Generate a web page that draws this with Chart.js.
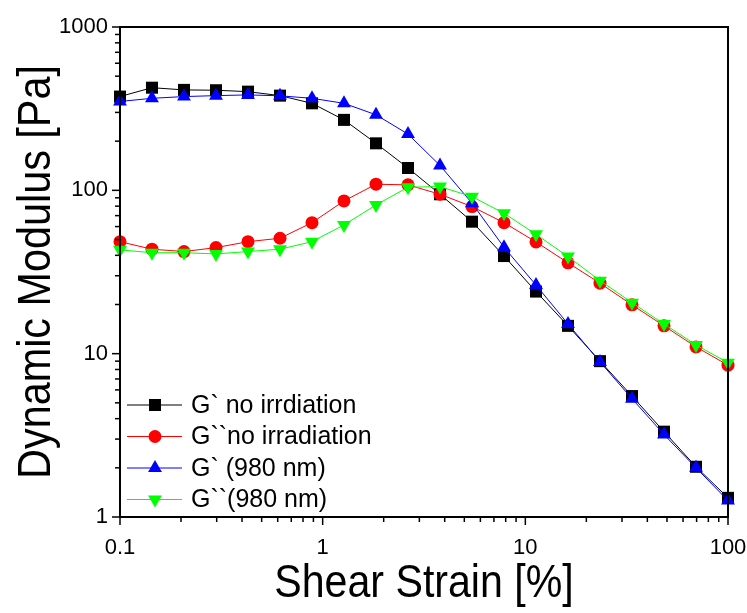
<!DOCTYPE html>
<html><head><meta charset="utf-8">
<script src="https://cdn.jsdelivr.net/npm/chart.js@4.4.0/dist/chart.umd.min.js"></script>
<style>html,body{margin:0;padding:0;background:#fff;}#wrap{width:747px;height:613px;}</style>
</head><body><div id="wrap"><canvas id="c" width="747" height="613"></canvas></div>
<script>
// ---- data ----
const strain = [0.1, 0.1438, 0.2069, 0.2976, 0.4281, 0.6158, 0.8859, 1.274, 1.833, 2.637, 3.793, 5.456, 7.848, 11.29, 16.24, 23.36, 33.6, 48.33, 69.52, 100];
const gPrimeNoIrr   = [375, 425, 412, 410, 402, 380, 341, 270, 194, 137, 94.6, 64.3, 39.6, 24.0, 14.8, 9.0, 5.5, 3.33, 2.03, 1.31];
const gDPrimeNoIrr  = [48.5, 43.6, 42.2, 44.6, 48.5, 50.9, 63.4, 86.1, 109, 108, 94.6, 79.5, 63.4, 48.3, 36.0, 27.0, 19.9, 14.8, 11.0, 8.5];
const gPrime980     = [350, 366, 375, 380, 384, 379, 366, 341, 290, 221, 142, 83.4, 44.8, 26.3, 15.2, 8.9, 5.3, 3.2, 2.0, 1.26];
const gDPrime980    = [43.2, 41.5, 41.5, 40.8, 42.2, 43.6, 48.5, 61.4, 81.4, 104.5, 105.4, 91.5, 72.4, 53.8, 39.3, 28.0, 20.5, 15.2, 11.3, 8.8];
const seriesNames = ["G` no irrdiation", "G``no irradiation", "G` (980 nm)", "G``(980 nm)"];
const xTickLabels = ["0.1", "1", "10", "100"];
const yTickLabels = ["1", "10", "100", "1000"];
const xTitle = "Shear Strain [%]";
const yTitle = "Dynamic Modulus [Pa]";

const FONT = "'Liberation Sans', Arial, sans-serif";

function pts(ys){ return strain.map((x,i)=>({x:x, y:ys[i]})); }
function logTicks(min, max){
  const out=[];
  for(let e=Math.round(Math.log10(min)); e<Math.round(Math.log10(max)); e++){
    for(let m=1;m<10;m++) out.push(m*Math.pow(10,e));
  }
  out.push(max);
  return out;
}
function isDecade(v){ const l=Math.log10(v); return Math.abs(l-Math.round(l))<1e-6; }

const styles = [
  {color:'#000000', pointStyle:'rect', radius:8.5, rotation:0},
  {color:'#ff0000', pointStyle:'circle', radius:6.5, rotation:0},
  {color:'#0000ff', pointStyle:'triangle', radius:8, rotation:0},
  {color:'#00ff00', pointStyle:'triangle', radius:8, rotation:180}
];
const seriesData = [gPrimeNoIrr, gDPrimeNoIrr, gPrime980, gDPrime980];

const datasets = seriesData.map((d,i)=>({
  label: seriesNames[i],
  data: pts(d),
  borderColor: styles[i].color,
  backgroundColor: styles[i].color,
  pointBackgroundColor: styles[i].color,
  pointBorderColor: styles[i].color,
  pointStyle: styles[i].pointStyle,
  pointRadius: styles[i].radius,
  pointRotation: styles[i].rotation,
  pointBorderWidth: 0,
  borderWidth: 1,
  showLine: true,
  clip: false,
  order: 4 - i
}));

const framePlugin = {
  id: 'frameTicks',
  afterDatasetsDraw(chart){
    const ctx = chart.ctx, a = chart.chartArea;
    const xs = chart.scales.x, ys = chart.scales.y;
    ctx.save();
    ctx.strokeStyle = '#000';
    ctx.lineWidth = 1.5;
    logTicks(0.1, 100).forEach(v=>{
      const px = xs.getPixelForValue(v);
      const len = isDecade(v) ? 8 : 5;
      ctx.beginPath(); ctx.moveTo(px, a.bottom); ctx.lineTo(px, a.bottom + len); ctx.stroke();
    });
    logTicks(1, 1000).forEach(v=>{
      const py = ys.getPixelForValue(v);
      const len = isDecade(v) ? 8 : 5;
      ctx.beginPath(); ctx.moveTo(a.left, py); ctx.lineTo(a.left - len, py); ctx.stroke();
    });
    ctx.lineWidth = 2;
    ctx.strokeRect(a.left, a.top, a.right - a.left, a.bottom - a.top);
    // legend
    const lx0 = 127, lx1 = 182, mx = 155, tx = 191, y0 = 405, dy = 31.5;
    chart.data.datasets.forEach((ds,i)=>{
      const y = y0 + i*dy;
      ctx.strokeStyle = ds.borderColor; ctx.lineWidth = 1;
      ctx.beginPath(); ctx.moveTo(lx0, y); ctx.lineTo(lx1, y); ctx.stroke();
      ctx.fillStyle = ds.pointBackgroundColor; ctx.strokeStyle = ds.pointBorderColor;
      Chart.helpers.drawPoint(ctx, {pointStyle: ds.pointStyle, radius: ds.pointRadius, rotation: ds.pointRotation, borderWidth: 0}, mx, y);
      ctx.fillStyle = '#000';
      ctx.font = '25px ' + FONT;
      ctx.textAlign = 'left'; ctx.textBaseline = 'middle';
      ctx.fillText(ds.label, tx, y + 1);
    });
    // axis titles (slightly condensed like the reference)
    ctx.fillStyle = '#000';
    ctx.font = '47px ' + FONT;
    ctx.textAlign = 'center'; ctx.textBaseline = 'middle';
    ctx.save();
    ctx.translate((a.left + a.right) / 2, 584);
    ctx.scale(0.875, 1);
    ctx.fillText(xTitle, 0, 0);
    ctx.restore();
    ctx.save();
    ctx.translate(37, (a.top + a.bottom) / 2);
    ctx.rotate(-Math.PI / 2);
    ctx.scale(0.88, 1);
    ctx.fillText(yTitle, 0, 0);
    ctx.restore();
    ctx.restore();
  }
};

new Chart(document.getElementById('c'), {
  type: 'scatter',
  data: { datasets },
  options: {
    responsive: false,
    animation: false,
    devicePixelRatio: 1,
    layout: { padding: { top: 27, right: 19, left: 0, bottom: 0 } },
    plugins: { legend: { display: false }, tooltip: { enabled: false } },
    scales: {
      x: {
        type: 'logarithmic', min: 0.1, max: 100,
        afterFit(s){ s.height = 96; s.paddingLeft = 0; s.paddingRight = 0; },
        afterBuildTicks(s){ s.ticks = logTicks(0.1, 100).map(v=>({value:v})); },
        grid: { display: true, drawOnChartArea: false, drawTicks: true, tickLength: 8, color: 'rgba(0,0,0,0)' },
        border: { display: false },
        ticks: {
          autoSkip: false, maxRotation: 0, padding: 10, color: '#000',
          font: { family: FONT, size: 22 },
          callback(v){ if(!isDecade(v)) return ''; const i = Math.round(Math.log10(v)) + 1; return xTickLabels[i]; }
        },
        title: { display: false }
      },
      y: {
        type: 'logarithmic', min: 1, max: 1000,
        afterFit(s){ s.width = 120; s.paddingTop = 0; s.paddingBottom = 0; },
        afterBuildTicks(s){ s.ticks = logTicks(1, 1000).map(v=>({value:v})); },
        grid: { display: true, drawOnChartArea: false, drawTicks: true, tickLength: 8, color: 'rgba(0,0,0,0)' },
        border: { display: false },
        ticks: {
          autoSkip: false, padding: 4, color: '#000',
          font: { family: FONT, size: 22 },
          callback(v){ if(!isDecade(v)) return ''; const i = Math.round(Math.log10(v)); return yTickLabels[i]; }
        },
        title: { display: false }
      }
    }
  },
  plugins: [framePlugin]
});
</script>
</body></html>
